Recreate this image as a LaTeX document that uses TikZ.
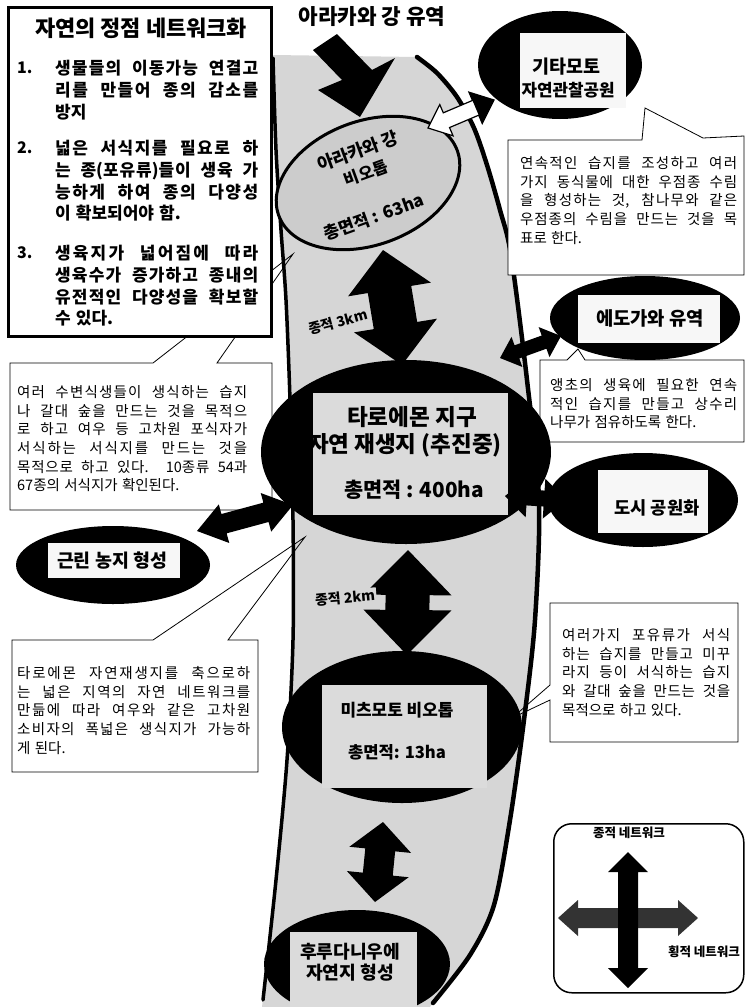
\documentclass[tikz,border=0pt]{standalone}
\usepackage{fontspec}
\setmainfont{Noto Sans CJK KR}
\usetikzlibrary{calc,shapes.geometric}
\definecolor{bandc}{gray}{0.84}
\definecolor{rectc}{gray}{0.86}
\definecolor{arac}{gray}{0.80}
\definecolor{whitec}{gray}{0.97}
% small stretchable gap between Hangul syllables (for justified lines)
\XeTeXinterchartokenstate=1
\newXeTeXintercharclass\hangulclass
\count255="AC00
\loop\ifnum\count255<"D7A4 \XeTeXcharclass\count255=\hangulclass \advance\count255 by 1 \repeat
\XeTeXinterchartoks\hangulclass\hangulclass={\hskip0pt plus 0.1em\relax}
\newcommand\jl[2]{\makebox[#1][s]{#2}}
\newcommand\fs[2]{\fontsize{#1}{#2}\selectfont\spaceskip=0.3em plus 0.5em\relax}
% set a one-line text at the font size that gives it the width #1 (pt)
\newlength\fitlen
\newcommand\fitto[3]{\begingroup#2\fontsize{10}{12}\selectfont\settowidth\fitlen{#3}%
  \pgfmathsetmacro\fitsz{10*#1/\fitlen}\fontsize{\fitsz}{\fitsz}\selectfont#3\endgroup}
% double block arrow: [style]{A}{B}{shaft half}{head half}{head length}
\newcommand\dblarrow[6][fill=black]{%
  \coordinate (dP) at ($(#2)!#6!(#3)$);
  \coordinate (dQ) at ($(#3)!#6!(#2)$);
  \path[#1] (#2) -- ($(dP)!#5!90:(#3)$) -- ($(dP)!#4!90:(#3)$)
    -- ($(dQ)!#4!-90:(#2)$) -- ($(dQ)!#5!-90:(#2)$) -- (#3)
    -- ($(dQ)!#5!90:(#2)$) -- ($(dQ)!#4!90:(#2)$)
    -- ($(dP)!#4!-90:(#3)$) -- ($(dP)!#5!-90:(#3)$) -- cycle;}
\tikzset{
  riverline/.style={line width=3.5pt, line cap=round},
  cline/.style={line width=0.8pt},
  ctext/.style={anchor=north west, inner sep=0pt, align=left, font=\fs{14.5}{18.6}},
  itext/.style={anchor=north west, inner sep=0pt, align=left, font=\bfseries\fs{17}{21.7}},
  inum/.style={anchor=west, inner sep=0pt, font=\bfseries\fs{16}{20}},
  blackell/.style={ellipse, fill=black, inner sep=0pt},
  inrect/.style={inner sep=0pt, anchor=north west},
  elabel/.style={inner sep=0pt},
  dlabel/.style={fill=bandc, inner sep=1.5pt},
}
\begin{document}
\begin{tikzpicture}[x=1pt,y=-1pt]
\useasboundingbox (0,0) rectangle (745,1007);
\fill[white] (0,0) rectangle (745,1007);
% ---------- river band
\fill[bandc] plot[smooth] coordinates {(273,55) (276,150) (281,230) (286,300) (290,400) (293,520) (293,640) (287,760) (276,880) (262,1007)}
  -- plot[smooth] coordinates {(430,1007) (470,955) (494,905) (510,820) (524,720) (535,620) (539,500) (527,380) (511,255) (500,210) (487,165) (474,128) (457,97) (437,73) (417,57)} -- cycle;
\draw[riverline] plot[smooth] coordinates {(273,58) (276,150) (281,230) (286,300) (290,400) (293,520) (293,640) (287,760) (276,880) (263,1000)};
\draw[riverline, line width=4.5pt] plot[smooth] coordinates {(417,57) (437,73) (457,97) (474,128) (487,165) (500,210) (511,255) (527,380) (539,500) (535,620) (524,720) (510,820) (494,905) (470,955) (433,1003)};
% ---------- callout 2
\coordinate (c2apex) at (293,254);
\fill[white] (10,363) rectangle (272,510);
\draw[cline] (217,363) -- (272,363) -- (272,510) -- (10,510) -- (10,363) -- (153,363) -- (c2apex) -- cycle;
\node (c2) [ctext] at (17,385.5) {\jl{230pt}{여러 수변식생들이 생식하는 습지}\\\jl{230pt}{나 갈대 숲을 만드는 것을 목적으}\\\jl{230pt}{로 하고 여우 등 고차원 포식자가}\\\jl{230pt}{서식하는 서식지를 만드는 것을}\\\jl{230pt}{목적으로 하고 있다. 10종류 54과}\\67종의 서식지가 확인된다.};
% ---------- box 1
\node (box1) [draw, line width=2.5pt, fill=white, inner sep=0pt, minimum width=263pt, minimum height=329pt, anchor=north west] at (7,6) {};
\node (title) [elabel] at (141,28) {\fitto{212}{\bfseries}{자연의 정점 네트워크화}};
\node (n1) [inum] at (17,68) {1.};
\node (i1) [itext] at (55,60.3) {\jl{203pt}{생물들의 이동가능 연결고}\\\jl{203pt}{리를 만들어 종의 감소를}\\방지};
\node (n2) [inum] at (17,148) {2.};
\node (i2) [itext] at (55,140.3) {\jl{203pt}{넓은 서식지를 필요로 하}\\\jl{203pt}{는 종(포유류)들이 생육 가}\\\jl{203pt}{능하게 하여 종의 다양성}\\이 확보되어야 함.};
\node (n3) [inum] at (17,253) {3.};
\node (i3) [itext] at (55,245.3) {\jl{203pt}{생육지가 넓어짐에 따라}\\\jl{203pt}{생육수가 증가하고 종내의}\\\jl{203pt}{유전적인 다양성을 확보할}\\수 있다.};
% ---------- header and top arrow
\node (head) [elabel] at (372,17) {\fitto{147}{\bfseries}{아라카와 강 유역}};
\fill (313,50) -- (342,80) -- (318,90) -- (360,117) -- (395,58) -- (372,70) -- (337,34) -- cycle;
% ---------- Arakawa ellipse
\node (ara) [ellipse, fill=arac, draw, line width=3pt, minimum width=190pt, minimum height=124pt, rotate=20, inner sep=0pt] at (368,183) {};
\node (arat1) [elabel, rotate=20] at (358,151) {\fitto{85}{\bfseries}{아라카와 강}};
\node (arat2) [elabel, rotate=20] at (366,173) {\fitto{45}{\bfseries}{비오톱}};
\node (arat3) [elabel, rotate=20] at (374,217) {\fitto{105}{\bfseries}{총면적 : 63ha}};
% ---------- Kitamoto
\node (kita) [blackell, minimum width=164pt, minimum height=108pt] at (560,65) {};
\node (kitar) [inrect, fill=whitec, minimum width=106pt, minimum height=75pt] at (520,33) {};
\node (kitat1) [elabel] at (566,67) {\fitto{68}{\bfseries}{기타모토}};
\node (kitat2) [elabel] at (568,90) {\fitto{93}{\bfseries}{자연관찰공원}};
\coordinate (ka1) at (428,128);
\coordinate (ka2) at (494,100);
\dblarrow[fill=white, draw=black, line width=1.2pt]{ka1}{ka2}{8pt}{17pt}{20pt}
\coordinate (kQ) at ($(ka2)!20pt!(ka1)$);
\fill (ka2) -- ($(kQ)!17pt!90:(ka1)$) -- ($(kQ)!17pt!-90:(ka1)$) -- cycle;
% callout 1
\coordinate (c1apex) at (645,108);
\fill[white] (508,139) rectangle (744,275);
\draw[cline] (703,138) -- (744,136) -- (744,275) -- (508,275) -- (508,140) -- (642,140) -- (c1apex) -- cycle;
\node (c1) [ctext] at (520,156.5) {\jl{217pt}{연속적인 습지를 조성하고 여러}\\\jl{217pt}{가지 동식물에 대한 우점종 수림}\\\jl{217pt}{을 형성하는 것, 참나무와 같은}\\\jl{217pt}{우점종의 수림을 만드는 것을 목}\\표로 한다.};
% ---------- vertical arrow 1
\coordinate (a1t) at (383,250);
\coordinate (a1b) at (402,365);
\dblarrow{a1t}{a1b}{22pt}{42pt}{40pt}
\node (lab3) [dlabel, rotate=15] at (338,322) {\fitto{60}{\bfseries}{종적 3km}};
% ---------- Edogawa
\node (edo) [blackell, minimum width=190pt, minimum height=84pt] at (645,318) {};
\node (edor) [inrect, fill=whitec, minimum width=142pt, minimum height=48pt] at (578,295) {};
\node (edot) [elabel] at (650,318) {\fitto{108}{\bfseries}{에도가와 유역}};
\coordinate (e1) at (500,358);
\coordinate (e2) at (561,336);
\dblarrow{e1}{e2}{7pt}{16pt}{18pt}
% callout 3
\coordinate (c3apex) at (578,349);
\fill[white] (540,360) rectangle (744,442);
\draw[cline] (585,360) -- (744,360) -- (744,442) -- (540,442) -- (540,360) -- (567,360) -- (c3apex) -- cycle;
\node (c3) [ctext] at (550,378.5) {\jl{187pt}{앵초의 생육에 필요한 연속}\\\jl{187pt}{적인 습지를 만들고 상수리}\\나무가 점유하도록 한다.};
% ---------- Toshi
\node (dosi) [blackell, minimum width=190pt, minimum height=94pt] at (643,500) {};
\node (dosir) [inrect, fill=whitec, minimum width=110pt, minimum height=63pt] at (598,470) {};
\node (dosit) [elabel] at (657,508) {\fitto{85}{\bfseries}{도시 공원화}};
% ---------- callout 4
\coordinate (c4apex) at (305,537);
\fill[white] (12,640) rectangle (258,772);
\draw[cline] (228,640) -- (258,640) -- (258,772) -- (12,772) -- (12,640) -- (153,640) -- (c4apex) -- cycle;
\node (c4) [ctext] at (17,666.5) {\jl{233pt}{타로에몬 자연재생지를 축으로하}\\\jl{233pt}{는 넓은 지역의 자연 네트워크를}\\\jl{233pt}{만듦에 따라 여우와 같은 고차원}\\\jl{233pt}{소비자의 폭넓은 생식지가 가능하}\\게 된다.};
% ---------- Taroemon ellipse
\node (taro) [blackell, minimum width=290pt, minimum height=184pt] at (406,452) {};
\node (taror) [inrect, fill=rectc, minimum width=195pt, minimum height=122pt] at (313,393) {};
\node (tarot1) [elabel] at (412,417) {\fitto{130}{\bfseries}{타로에몬 지구}};
\node (tarot2) [elabel] at (405,445) {\fitto{194}{\bfseries}{자연 재생지 (추진중)}};
\node (tarot3) [elabel] at (414,490) {\fitto{140}{\bfseries}{총면적 : 400ha}};
\coordinate (d1) at (505,496);
\coordinate (d2) at (566,500);
\dblarrow{d1}{d2}{8pt}{20pt}{22pt}
% ---------- Geunrin
\node (geun) [blackell, minimum width=194pt, minimum height=78pt] at (113,565) {};
\node (geunr) [inrect, fill=whitec, minimum width=132pt, minimum height=35pt] at (48,543) {};
\node (geunt) [elabel] at (112,561) {\fitto{110}{\bfseries}{근린 농지 형성}};
\coordinate (g1) at (197,531);
\coordinate (g2) at (293,505);
\dblarrow{g1}{g2}{10pt}{20pt}{28pt}
% ---------- vertical arrow 2
\coordinate (a2t) at (408,550);
\coordinate (a2b) at (407,655);
\dblarrow{a2t}{a2b}{22pt}{44pt}{45pt}
\node (lab2) [dlabel, rotate=5] at (345,598) {\fitto{60}{\bfseries}{종적 2km}};
% ---------- Mitsumoto
\node (mitsu) [blackell, minimum width=240pt, minimum height=152pt] at (402,727) {};
\node (mitsur) [inrect, fill=rectc, minimum width=165pt, minimum height=103pt] at (322,685) {};
\node (mitsut1) [elabel] at (397,710) {\fitto{113}{\bfseries}{미츠모토 비오톱}};
\node (mitsut2) [elabel] at (397,752) {\fitto{98}{\bfseries}{총면적: 13ha}};
% callout 5
\coordinate (c5apex) at (512,718);
\fill[white] (550,603) rectangle (738,742);
\draw[cline] (550,700) -- (550,742) -- (738,742) -- (738,603) -- (550,603) -- (550,685) -- (c5apex) -- cycle;
\node (c5) [ctext] at (562,628.5) {\jl{168pt}{여러가지 포유류가 서식}\\\jl{168pt}{하는 습지를 만들고 미꾸}\\\jl{168pt}{라지 등이 서식하는 습지}\\\jl{168pt}{와 갈대 숲을 만드는 것을}\\목적으로 하고 있다.};
% ---------- vertical arrow 3
\coordinate (a3t) at (383,822);
\coordinate (a3b) at (375,902);
\dblarrow{a3t}{a3b}{15pt}{31pt}{28pt}
% ---------- Furudani
\node (furu) [blackell, minimum width=186pt, minimum height=108pt] at (357,964) {};
\node (furur) [inrect, fill=rectc, minimum width=127pt, minimum height=75pt] at (290,932) {};
\node (furut1) [elabel] at (350,952) {\fitto{100}{\bfseries}{후루다니우에}};
\node (furut2) [elabel] at (350,973) {\fitto{88}{\bfseries}{자연지 형성}};
% ---------- legend
\node (leg) [draw, rounded corners=18pt, line width=1.5pt, minimum width=190pt, minimum height=169pt, anchor=north west, inner sep=0pt] at (553,823) {};
\node (legv) [elabel] at (629,833) {\fitto{72}{\bfseries}{종적 네트워크}};
\node (legh) [elabel] at (704,952) {\fitto{72}{\bfseries}{횡적 네트워크}};
\coordinate (h1) at (558,918);
\coordinate (h2) at (698,918);
\dblarrow[fill=black!80]{h1}{h2}{10pt}{18pt}{20pt}
\coordinate (v1) at (628,852);
\coordinate (v2) at (628,988);
\dblarrow{v1}{v2}{10pt}{20pt}{20pt}
\end{tikzpicture}
\end{document}
